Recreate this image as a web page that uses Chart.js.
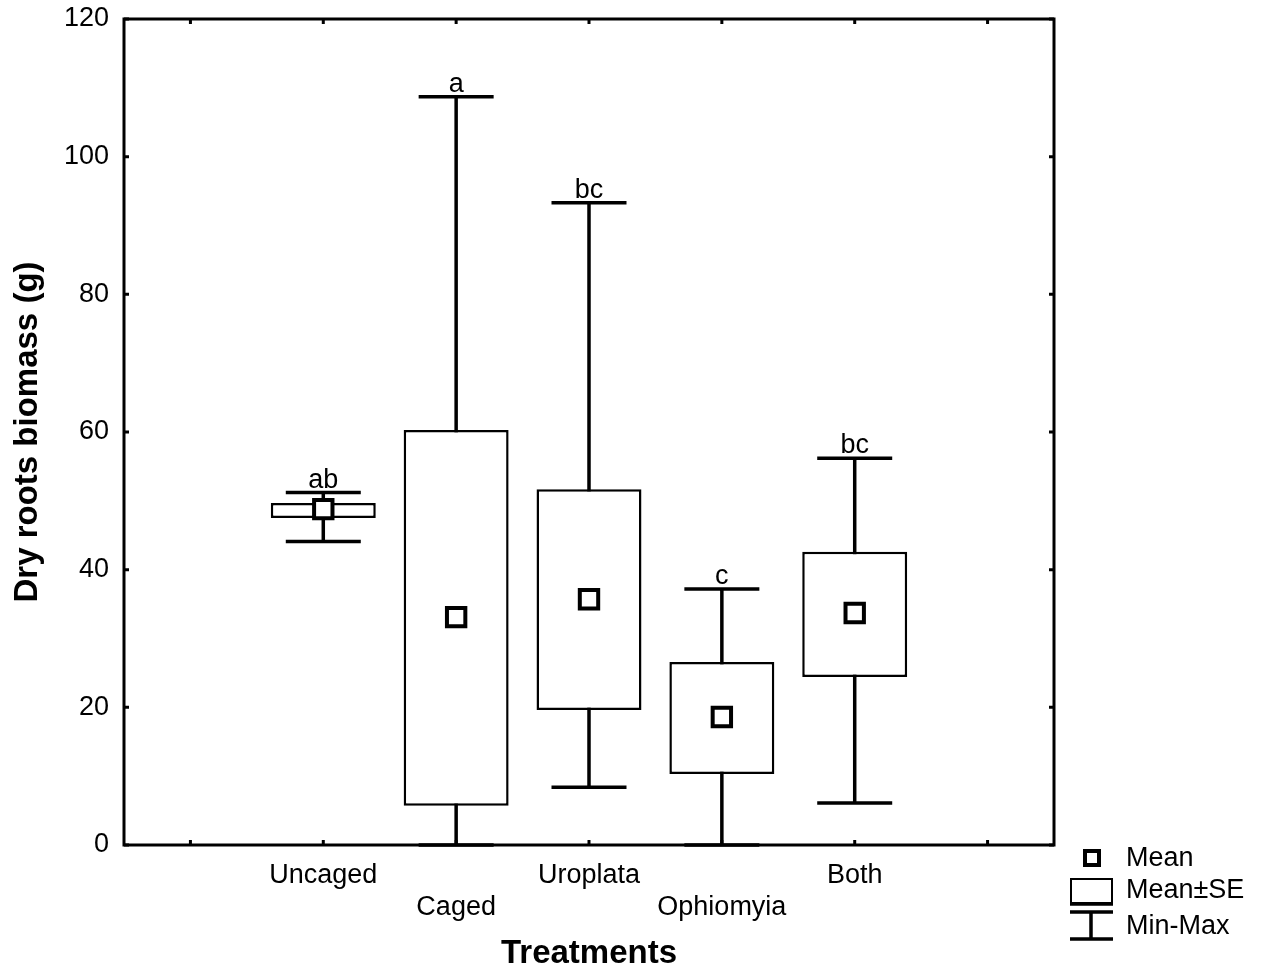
<!DOCTYPE html>
<html>
<head>
<meta charset="utf-8">
<title>Dry roots biomass</title>
<script src="https://cdn.jsdelivr.net/npm/chart.js@4/dist/chart.umd.min.js"></script>
<style>
  body { margin: 0; background: #fff; }
  canvas { display: block; }
</style>
</head>
<body>
<canvas id="chart-roots" width="1264" height="974"></canvas>
<script>
var treatments = ['Uncaged', 'Caged', 'Uroplata', 'Ophiomyia', 'Both'];
var means   = [48.8, 33.1, 35.7, 18.6, 33.7];
var seLow   = [47.5, 5.7, 19.6, 10.3, 24.4];
var seHigh  = [49.7, 60.3, 51.7, 26.6, 42.6];
var mins    = [44.1, 0, 8.4, 0, 6.1];
var maxs    = [51.2, 108.7, 93.3, 37.2, 56.2];
var groups  = ['ab', 'a', 'bc', 'c', 'bc'];
var yTicks  = [0, 20, 40, 60, 80, 100, 120];

var FONT = '"Liberation Sans", Arial, sans-serif';

// one empty slot either side, labels alternate between two rows
var labels = [''], boxes = [null], meanPts = [null];
for (var i = 0; i < treatments.length; i++) {
    labels.push(i % 2 === 0 ? [treatments[i], ''] : ['', treatments[i]]);
    boxes.push([seLow[i], seHigh[i]]);
    meanPts.push(means[i]);
}
labels.push('');
boxes.push(null);
meanPts.push(null);

var whiskers = {
    id: 'whiskers',
    beforeDatasetsDraw: function(chart) {
        var ctx = chart.ctx, xs = chart.scales.x, ys = chart.scales.y;
        ctx.save();
        ctx.strokeStyle = '#000';
        ctx.lineWidth = 3.5;
        for (var i = 0; i < treatments.length; i++) {
            var x = xs.getPixelForValue(i + 1);
            var top = ys.getPixelForValue(maxs[i]), bot = ys.getPixelForValue(mins[i]);
            ctx.beginPath();
            ctx.moveTo(x, top); ctx.lineTo(x, bot);
            ctx.moveTo(x - 37.5, top); ctx.lineTo(x + 37.5, top);
            ctx.moveTo(x - 37.5, bot); ctx.lineTo(x + 37.5, bot);
            ctx.stroke();
        }
        ctx.restore();
    },
    afterDatasetsDraw: function(chart) {
        var ctx = chart.ctx, xs = chart.scales.x, ys = chart.scales.y;
        ctx.save();
        ctx.fillStyle = '#000';
        ctx.font = '27px ' + FONT;
        ctx.textAlign = 'center';
        ctx.textBaseline = 'alphabetic';
        for (var i = 0; i < treatments.length; i++) {
            ctx.fillText(groups[i], xs.getPixelForValue(i + 1), ys.getPixelForValue(maxs[i]) - 5);
        }
        ctx.restore();
    }
};

var frame = {
    id: 'frame',
    afterDraw: function(chart) {
        var ctx = chart.ctx, a = chart.chartArea, xs = chart.scales.x, ys = chart.scales.y;
        ctx.save();
        ctx.strokeStyle = '#000';
        ctx.lineWidth = 3;
        ctx.strokeRect(a.left, a.top, a.right - a.left, a.bottom - a.top);
        ctx.beginPath();
        yTicks.forEach(function(v) {
            var y = ys.getPixelForValue(v);
            ctx.moveTo(a.left, y); ctx.lineTo(a.left + 5, y);
            ctx.moveTo(a.right, y); ctx.lineTo(a.right - 5, y);
        });
        for (var k = 0; k < labels.length; k++) {
            var x = xs.getPixelForValue(k);
            ctx.moveTo(x, a.bottom); ctx.lineTo(x, a.bottom - 5);
            ctx.moveTo(x, a.top); ctx.lineTo(x, a.top + 5);
        }
        ctx.stroke();

        // legend
        ctx.lineWidth = 4;
        ctx.fillStyle = '#fff';
        ctx.fillRect(1085, 851, 14, 14);
        ctx.strokeRect(1085, 851, 14, 14);
        ctx.lineWidth = 2;
        ctx.strokeRect(1071, 879, 41, 24);
        ctx.lineWidth = 3.5;
        ctx.beginPath();
        ctx.moveTo(1070, 904); ctx.lineTo(1113, 904);
        ctx.moveTo(1070, 912); ctx.lineTo(1113, 912);
        ctx.moveTo(1091, 912); ctx.lineTo(1091, 939);
        ctx.moveTo(1070, 939); ctx.lineTo(1113, 939);
        ctx.stroke();
        ctx.fillStyle = '#000';
        ctx.font = '27px ' + FONT;
        ctx.textAlign = 'left';
        ctx.textBaseline = 'middle';
        ctx.fillText('Mean', 1126, 859);
        ctx.fillText('Mean\u00B1SE', 1126, 891);
        ctx.fillText('Min-Max', 1126, 927);
        ctx.restore();
    }
};

new Chart(document.getElementById('chart-roots'), {
    type: 'bar',
    data: {
        labels: labels,
        datasets: [
            {
                label: 'Mean',
                type: 'line',
                data: meanPts,
                showLine: false,
                pointStyle: 'rect',
                pointRadius: 13,
                pointBorderWidth: 4,
                pointBackgroundColor: '#fff',
                pointBorderColor: '#000',
                order: 0
            },
            {
                label: 'Mean\u00B1SE',
                data: boxes,
                backgroundColor: '#fff',
                borderColor: '#000',
                borderWidth: 2.5,
                borderSkipped: false,
                barPercentage: 0.79,
                categoryPercentage: 1,
                order: 1
            }
        ]
    },
    options: {
        responsive: false,
        devicePixelRatio: 1,
        animation: false,
        layout: { padding: { left: 0, top: 19, right: 210, bottom: 0 } },
        plugins: { legend: { display: false }, tooltip: { enabled: false } },
        scales: {
            x: {
                grid: { display: false, drawTicks: false },
                border: { display: false },
                ticks: { color: '#000', padding: 14, font: { family: FONT, size: 27, lineHeight: 1.2 }, maxRotation: 0, autoSkip: false },
                title: { display: true, text: 'Treatments', color: '#000', padding: { top: 0, bottom: 0 },
                         font: { family: FONT, size: 33, weight: 'bold', lineHeight: 1.2 } },
                afterFit: function(s) { s.height = 129; s.paddingLeft = 0; s.paddingRight = 0; }
            },
            y: {
                min: 0,
                max: 120,
                grid: { display: false, drawTicks: false },
                border: { display: false },
                ticks: { color: '#000', stepSize: 20, padding: 15, font: { family: FONT, size: 27 } },
                title: { display: true, text: 'Dry roots biomass (g)', color: '#000', padding: { top: 8, bottom: 0 },
                         font: { family: FONT, size: 33, weight: 'bold', lineHeight: 1.2 } },
                afterFit: function(s) { s.width = 124; s.paddingTop = 0; s.paddingBottom = 0; }
            }
        }
    },
    plugins: [whiskers, frame]
});
</script>
</body>
</html>
